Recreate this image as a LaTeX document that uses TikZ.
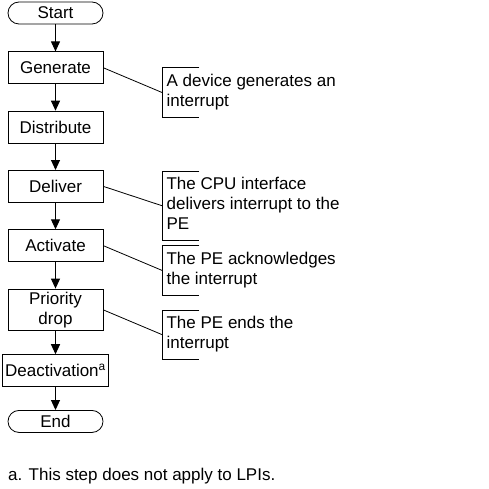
\documentclass[tikz,border=0pt]{standalone}
\usepackage{fontspec}
\setmainfont{Liberation Sans}
\usetikzlibrary{positioning, arrows.meta}

\begin{document}
\begin{tikzpicture}[
    x=1pt, y=-1pt,
    node distance=26.5pt,
    inicio/.style={
        rectangle,
        rounded corners=11pt,
        draw=black,
        line width=0.8pt,
        minimum width=95pt,
        minimum height=22pt,
        inner sep=0pt,
        font=\fontsize{17}{20}\selectfont
    },
    paso/.style={
        rectangle,
        draw=black,
        line width=0.8pt,
        align=center,
        minimum width=95pt,
        minimum height=32pt,
        inner xsep=3pt,
        inner ysep=3pt,
        font=\fontsize{17}{20}\selectfont
    },
    nota/.style={
        align=left,
        inner xsep=4pt,
        inner ysep=6pt,
        text depth=5pt,
        font=\fontsize{17}{20}\selectfont
    },
    flecha/.style={
        -{Triangle[length=10pt, width=9pt]},
        line width=1pt
    },
    enlace/.style={
        line width=0.8pt
    }
]

\useasboundingbox (0,0) rectangle (489,489);

\node[inicio] (start) at (55.5,13) {Start};
\node[paso, below=27pt of start] (generate) {Generate};
\node[paso, below=of generate] (distribute) {Distribute};
\node[paso, below=of distribute] (deliver) {Deliver};
\node[paso, below=of deliver] (activate) {Activate};
\node[paso, below=of activate] (priority) {Priority\\drop};
\node[paso, below=23pt of priority] (deactivation) {Deactivation\textsuperscript{a}};
\node[inicio, below=23pt of deactivation] (end) {End};

% notas a la derecha
\node[nota, below right=0pt and 59pt of generate.east] (nota1) {A device generates an\\interrupt};
\node[nota, below right=1pt and 59pt of deliver.north east] (nota2) {The CPU interface\\delivers interrupt to the\\PE};
\node[nota, below right=0pt and 59pt of activate.east] (nota3) {The PE acknowledges\\the interrupt};
\node[nota, below right=0pt and 59pt of priority.east] (nota4) {The PE ends the\\interrupt};

\node[anchor=base west, inner sep=0pt, font=\fontsize{17}{20}\selectfont] (pie) at (8,480) {a. This step does not apply to LPIs.};

\draw[flecha] (start) -- (generate);
\draw[flecha] (generate) -- (distribute);
\draw[flecha] (distribute) -- (deliver);
\draw[flecha] (deliver) -- (activate);
\draw[flecha] (activate) -- (priority);
\draw[flecha] (priority) -- (deactivation);
\draw[flecha] (deactivation) -- (end);

\foreach \n in {nota1, nota2, nota3, nota4}
    \draw[enlace] ([xshift=37pt]\n.north west) -- (\n.north west) -- (\n.south west) -- ([xshift=37pt]\n.south west);

\draw[enlace] (generate.east) -- (nota1.west);
\draw[enlace] (deliver.east) -- (nota2.west);
\draw[enlace] (activate.east) -- (nota3.west);
\draw[enlace] (priority.east) -- (nota4.west);

\end{tikzpicture}
\end{document}
